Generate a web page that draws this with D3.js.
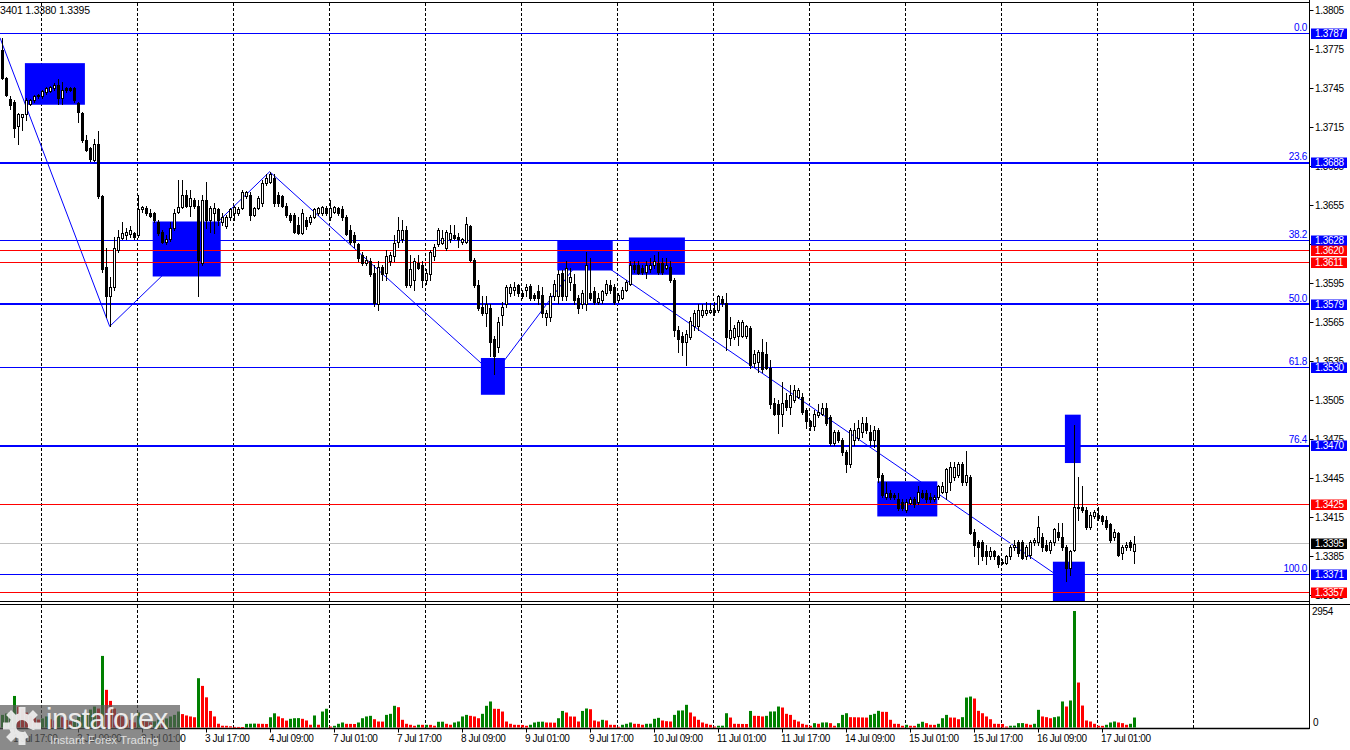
<!DOCTYPE html>
<html><head><meta charset="utf-8">
<script src="https://cdn.jsdelivr.net/npm/d3@7"></script>
<style>
html,body{margin:0;padding:0;background:#fff;}
svg{display:block;}
text{font-family:"Liberation Sans",Arial,sans-serif;}
</style></head><body>
<svg id="chart" width="1350" height="750"></svg>
<script>
// ---------- DATA (GBPUSD H1) ----------
const opens=[1.3775,1.3753,1.3737,1.3735,1.3716,1.3723,1.3725,1.3733,1.3736,1.3739,
1.3739,1.3742,1.3743,1.3745,1.3748,1.3738,1.3745,1.3745,1.3745,1.3734,
1.3726,1.3705,1.3699,1.3690,1.3702,1.3662,1.3608,1.3585,1.3592,1.3621,
1.3630,1.3632,1.3633,1.3634,1.3632,1.3652,1.3653,1.3649,1.3649,1.3642,
1.3635,1.3627,1.3629,1.3638,1.3650,1.3654,1.3663,1.3655,1.3659,1.3655,
1.3611,1.3659,1.3644,1.3649,1.3652,1.3642,1.3639,1.3646,1.3649,1.3649,
1.3653,1.3662,1.3663,1.3648,1.3653,1.3657,1.3672,1.3673,1.3676,1.3663,
1.3662,1.3655,1.3648,1.3648,1.3640,1.3634,1.3644,1.3642,1.3646,1.3649,
1.3649,1.3653,1.3646,1.3650,1.3653,1.3652,1.3646,1.3636,1.3632,1.3625,
1.3617,1.3611,1.3612,1.3603,1.3579,1.3608,1.3603,1.3612,1.3616,1.3627,
1.3629,1.3636,1.3594,1.3598,1.3611,1.3609,1.3598,1.3602,1.3616,1.3625,
1.3626,1.3622,1.3629,1.3632,1.3631,1.3627,1.3627,1.3639,1.3613,1.3594,
1.3577,1.3572,1.3576,1.3552,1.3546,1.3571,1.3579,1.3588,1.3590,1.3594,
1.3588,1.3590,1.3593,1.3586,1.3589,1.3586,1.3569,1.3569,1.3585,1.3585,
1.3603,1.3585,1.3596,1.3595,1.3584,1.3579,1.3579,1.3588,1.3589,1.3581,
1.3582,1.3588,1.3594,1.3592,1.3582,1.3584,1.3590,1.3595,1.3609,1.3609,
1.3607,1.3604,1.3606,1.3609,1.3611,1.3611,1.3607,1.3608,1.3598,1.3559,
1.3555,1.3550,1.3554,1.3562,1.3562,1.3571,1.3572,1.3573,1.3575,1.3575,
1.3583,1.3580,1.3553,1.3554,1.3555,1.3555,1.3555,1.3561,1.3534,1.3535,
1.3542,1.3541,1.3530,1.3503,1.3502,1.3495,1.3505,1.3500,1.3505,1.3508,
1.3508,1.3498,1.3489,1.3485,1.3494,1.3495,1.3499,1.3492,1.3472,1.3481,
1.3475,1.3465,1.3456,1.3475,1.3476,1.3481,1.3488,1.3481,1.3475,1.3482,
1.3448,1.3431,1.3434,1.3432,1.3429,1.3427,1.3421,1.3426,1.3429,1.3427,
1.3434,1.3434,1.3431,1.3429,1.3431,1.3435,1.3435,1.3442,1.3446,1.3448,
1.3456,1.3442,1.3446,1.3404,1.3396,1.3396,1.3389,1.3385,1.3389,1.3385,
1.3381,1.3380,1.3385,1.3392,1.3396,1.3396,1.3385,1.3386,1.3396,1.3396,
1.3400,1.3394,1.3390,1.3396,1.3404,1.3400,1.3392,1.3376,1.3390,1.3422,
1.3423,1.3421,1.3408,1.3416,1.3417,1.3416,1.3413,1.3410,1.3400,1.3403,
1.3388,1.3392,1.3396,1.3389];
const highs=[1.3784,1.3754,1.3739,1.3736,1.3726,1.3725,1.3738,1.3737,1.3740,1.3741,
1.3744,1.3746,1.3747,1.3749,1.3752,1.3750,1.3746,1.3746,1.3746,1.3735,
1.3727,1.3709,1.3700,1.3706,1.3712,1.3663,1.3622,1.3600,1.3631,1.3636,
1.3642,1.3638,1.3639,1.3635,1.3663,1.3655,1.3655,1.3652,1.3650,1.3644,
1.3636,1.3632,1.3642,1.3652,1.3675,1.3675,1.3667,1.3667,1.3661,1.3659,
1.3663,1.3673,1.3655,1.3657,1.3653,1.3649,1.3648,1.3653,1.3655,1.3654,
1.3667,1.3666,1.3665,1.3654,1.3662,1.3675,1.3679,1.3681,1.3679,1.3665,
1.3663,1.3657,1.3649,1.3649,1.3646,1.3652,1.3646,1.3648,1.3653,1.3654,
1.3655,1.3655,1.3659,1.3655,1.3654,1.3655,1.3648,1.3640,1.3635,1.3626,
1.3619,1.3616,1.3615,1.3609,1.3612,1.3609,1.3621,1.3619,1.3632,1.3646,
1.3644,1.3639,1.3617,1.3615,1.3617,1.3612,1.3606,1.3621,1.3625,1.3638,
1.3636,1.3636,1.3640,1.3640,1.3634,1.3630,1.3646,1.3640,1.3615,1.3598,
1.3585,1.3585,1.3579,1.3555,1.3569,1.3581,1.3594,1.3595,1.3596,1.3595,
1.3590,1.3595,1.3595,1.3588,1.3594,1.3592,1.3575,1.3588,1.3598,1.3605,
1.3605,1.3612,1.3607,1.3602,1.3586,1.3590,1.3619,1.3615,1.3592,1.3588,
1.3590,1.3598,1.3598,1.3595,1.3588,1.3592,1.3598,1.3612,1.3612,1.3612,
1.3609,1.3612,1.3615,1.3617,1.3619,1.3615,1.3615,1.3612,1.3599,1.3562,
1.3558,1.3559,1.3569,1.3575,1.3579,1.3579,1.3581,1.3580,1.3581,1.3586,
1.3585,1.3588,1.3569,1.3563,1.3567,1.3567,1.3563,1.3562,1.3544,1.3544,
1.3552,1.3550,1.3536,1.3507,1.3505,1.3519,1.3511,1.3517,1.3517,1.3515,
1.3511,1.3499,1.3490,1.3498,1.3502,1.3503,1.3503,1.3494,1.3482,1.3482,
1.3476,1.3467,1.3484,1.3488,1.3490,1.3492,1.3492,1.3486,1.3485,1.3484,
1.3449,1.3442,1.3436,1.3434,1.3434,1.3429,1.3429,1.3431,1.3431,1.3439,
1.3436,1.3436,1.3434,1.3432,1.3440,1.3442,1.3453,1.3458,1.3458,1.3458,
1.3458,1.3466,1.3448,1.3406,1.3398,1.3398,1.3394,1.3392,1.3390,1.3386,
1.3383,1.3386,1.3394,1.3398,1.3398,1.3398,1.3394,1.3398,1.3399,1.3416,
1.3403,1.3398,1.3398,1.3407,1.3411,1.3411,1.3394,1.3390,1.3486,1.3446,
1.3439,1.3423,1.3419,1.3421,1.3423,1.3417,1.3416,1.3411,1.3406,1.3404,
1.3394,1.3396,1.3398,1.3401];
const lows=[1.3752,1.3739,1.3729,1.3708,1.3702,1.3713,1.3721,1.3732,1.3735,1.3738,
1.3738,1.3741,1.3742,1.3744,1.3733,1.3733,1.3742,1.3743,1.3735,1.3719,
1.3704,1.3697,1.3689,1.3689,1.3661,1.3604,1.3569,1.3562,1.3590,1.3619,
1.3629,1.3629,1.3631,1.3629,1.3631,1.3650,1.3648,1.3646,1.3642,1.3632,
1.3626,1.3625,1.3628,1.3636,1.3649,1.3653,1.3654,1.3647,1.3653,1.3585,
1.3609,1.3638,1.3635,1.3634,1.3640,1.3640,1.3638,1.3644,1.3644,1.3648,
1.3652,1.3661,1.3644,1.3647,1.3652,1.3655,1.3671,1.3672,1.3655,1.3655,
1.3654,1.3646,1.3642,1.3634,1.3633,1.3633,1.3637,1.3641,1.3645,1.3648,
1.3648,1.3648,1.3644,1.3649,1.3648,1.3644,1.3632,1.3625,1.3623,1.3612,
1.3609,1.3609,1.3601,1.3578,1.3575,1.3598,1.3598,1.3609,1.3612,1.3623,
1.3627,1.3592,1.3592,1.3590,1.3606,1.3592,1.3595,1.3598,1.3613,1.3624,
1.3625,1.3621,1.3627,1.3629,1.3623,1.3625,1.3626,1.3612,1.3592,1.3575,
1.3571,1.3562,1.3539,1.3525,1.3542,1.3563,1.3577,1.3585,1.3586,1.3585,
1.3584,1.3585,1.3582,1.3582,1.3579,1.3569,1.3563,1.3566,1.3582,1.3580,
1.3582,1.3582,1.3590,1.3579,1.3572,1.3576,1.3575,1.3582,1.3579,1.3579,
1.3580,1.3586,1.3588,1.3579,1.3581,1.3583,1.3589,1.3594,1.3604,1.3602,
1.3602,1.3599,1.3604,1.3607,1.3602,1.3602,1.3606,1.3596,1.3555,1.3542,
1.3540,1.3532,1.3552,1.3559,1.3559,1.3569,1.3571,1.3572,1.3571,1.3573,
1.3578,1.3544,1.3548,1.3552,1.3548,1.3554,1.3553,1.3530,1.3531,1.3527,
1.3527,1.3529,1.3499,1.3494,1.3480,1.3485,1.3498,1.3495,1.3504,1.3507,
1.3495,1.3484,1.3482,1.3482,1.3492,1.3494,1.3486,1.3471,1.3471,1.3473,
1.3463,1.3450,1.3454,1.3471,1.3475,1.3477,1.3480,1.3471,1.3469,1.3442,
1.3431,1.3429,1.3429,1.3429,1.3421,1.3421,1.3419,1.3425,1.3423,1.3425,
1.3430,1.3427,1.3427,1.3428,1.3429,1.3434,1.3429,1.3436,1.3444,1.3446,
1.3440,1.3440,1.3402,1.3385,1.3379,1.3382,1.3379,1.3383,1.3383,1.3377,
1.3379,1.3379,1.3383,1.3390,1.3385,1.3383,1.3383,1.3384,1.3394,1.3394,
1.3389,1.3389,1.3388,1.3394,1.3398,1.3390,1.3366,1.3371,1.3389,1.3413,
1.3419,1.3406,1.3406,1.3415,1.3413,1.3410,1.3406,1.3396,1.3398,1.3385,
1.3383,1.3390,1.3390,1.3380];
const closes=[1.3753,1.3740,1.3732,1.3715,1.3725,1.3725,1.3736,1.3736,1.3739,1.3740,
1.3743,1.3745,1.3746,1.3748,1.3738,1.3744,1.3744,1.3744,1.3736,1.3727,
1.3705,1.3698,1.3691,1.3702,1.3662,1.3606,1.3585,1.3592,1.3622,1.3631,
1.3634,1.3635,1.3636,1.3631,1.3652,1.3654,1.3649,1.3647,1.3644,1.3634,
1.3627,1.3629,1.3638,1.3649,1.3654,1.3663,1.3655,1.3661,1.3655,1.3613,
1.3659,1.3644,1.3653,1.3653,1.3644,1.3646,1.3646,1.3652,1.3654,1.3652,
1.3665,1.3665,1.3648,1.3653,1.3661,1.3672,1.3676,1.3679,1.3657,1.3657,
1.3655,1.3648,1.3644,1.3635,1.3634,1.3649,1.3639,1.3646,1.3652,1.3653,
1.3654,1.3649,1.3653,1.3654,1.3649,1.3646,1.3633,1.3627,1.3627,1.3615,
1.3611,1.3613,1.3602,1.3580,1.3608,1.3602,1.3616,1.3617,1.3626,1.3636,
1.3636,1.3594,1.3606,1.3612,1.3607,1.3598,1.3603,1.3619,1.3623,1.3636,
1.3630,1.3635,1.3634,1.3630,1.3629,1.3629,1.3641,1.3613,1.3594,1.3576,
1.3572,1.3579,1.3550,1.3539,1.3565,1.3577,1.3592,1.3592,1.3592,1.3588,
1.3585,1.3592,1.3584,1.3584,1.3584,1.3572,1.3572,1.3585,1.3595,1.3602,
1.3585,1.3607,1.3600,1.3582,1.3576,1.3588,1.3609,1.3584,1.3581,1.3584,
1.3589,1.3595,1.3590,1.3581,1.3586,1.3590,1.3596,1.3609,1.3606,1.3603,
1.3604,1.3609,1.3609,1.3612,1.3604,1.3604,1.3609,1.3598,1.3559,1.3552,
1.3550,1.3556,1.3566,1.3572,1.3575,1.3575,1.3575,1.3575,1.3573,1.3585,
1.3580,1.3554,1.3559,1.3561,1.3565,1.3565,1.3562,1.3532,1.3541,1.3542,
1.3529,1.3530,1.3502,1.3495,1.3495,1.3503,1.3500,1.3509,1.3513,1.3513,
1.3496,1.3489,1.3485,1.3495,1.3496,1.3499,1.3488,1.3472,1.3481,1.3475,
1.3465,1.3456,1.3482,1.3482,1.3484,1.3488,1.3482,1.3475,1.3482,1.3446,
1.3432,1.3434,1.3431,1.3431,1.3422,1.3422,1.3427,1.3429,1.3425,1.3435,
1.3431,1.3429,1.3429,1.3431,1.3439,1.3439,1.3452,1.3454,1.3454,1.3456,
1.3442,1.3448,1.3403,1.3394,1.3392,1.3385,1.3385,1.3389,1.3385,1.3379,
1.3380,1.3385,1.3392,1.3394,1.3388,1.3384,1.3392,1.3396,1.3398,1.3408,
1.3392,1.3390,1.3396,1.3406,1.3400,1.3392,1.3376,1.3389,1.3423,1.3423,
1.3421,1.3408,1.3417,1.3419,1.3415,1.3412,1.3408,1.3398,1.3404,1.3386,
1.3392,1.3394,1.3392,1.3395];
const volumes=[320,355,405,800,530,480,380,300,250,200,
230,280,210,180,300,260,190,160,210,280,
330,355,455,530,480,1815,955,675,480,355,
280,230,195,130,380,200,150,130,155,200,
180,230,280,320,405,340,305,280,260,1250,
1055,765,420,280,95,45,43,30,15,14,
12,92,96,99,95,93,90,260,360,280,
235,175,220,235,238,220,178,70,305,70,
405,475,25,43,94,127,93,91,89,127,
235,280,296,210,152,150,320,347,550,515,
195,94,69,44,70,68,69,67,45,145,
147,94,70,127,152,280,320,296,280,235,
347,550,660,475,472,405,152,94,69,67,
65,44,69,127,145,148,127,125,122,235,
420,380,280,277,152,420,482,463,178,152,
195,178,69,67,18,69,94,127,94,92,
69,94,96,220,245,178,160,152,320,430,
433,575,380,280,195,127,94,69,25,44,
46,362,253,94,92,90,89,420,296,294,
280,296,405,408,532,507,347,320,195,152,
94,69,44,110,94,127,129,110,44,110,
320,362,262,260,257,255,252,320,347,423,
398,396,195,94,92,44,69,44,42,94,
145,110,69,67,94,235,320,253,251,210,
262,760,785,735,423,362,280,210,94,92,
90,25,44,46,110,112,94,69,94,448,
280,262,235,262,280,660,532,685,2954,1140,
557,178,152,94,44,42,69,127,152,127,
110,69,94,253];

const priceTicks=[1.3805,1.3775,1.3745,1.3715,1.3685,1.3655,1.3625,1.3595,1.3565,1.3535,1.3505,1.3475,1.3445,1.3415,1.3385,1.3355];
const fibLabels=["0.0","23.6","38.2","50.0","61.8","76.4","100.0"];
const fibPrices=[1.3787,1.3688,1.3628,1.3579,1.3530,1.3470,1.3371];
const fibWeights=[1,2,1,2,1,2,1];
const redLevels=[1.3620,1.3611,1.3425,1.3357];
const bidPrice=1.3395;
const zigBars=[0,27,67,123,146,266];
const zigSide=["H","L","H","L","H","L"];
const boxFrom=[5.8,37.75,119.8,138.9,156.8,218.9,265.8,262.8];
const boxTo=[20.8,54.75,125.8,152.75,170.8,233.9,269.75,270.8];
const boxHigh=[1.37645,1.36427,1.35377,1.36281,1.36304,1.34428,1.34941,1.33810];
const boxLow=[1.37325,1.36004,1.35094,1.36050,1.36017,1.34158,1.34569,1.33500];
const dayStartBars=[10,34,58,82,106,130,154,178,202,226,250,274,298];
const timeLabels=["1 Jul 17:00","2 Jul 09:00","3 Jul 01:00","3 Jul 17:00","4 Jul 09:00","7 Jul 01:00","7 Jul 17:00","8 Jul 09:00","9 Jul 01:00","9 Jul 17:00","10 Jul 09:00","11 Jul 01:00","11 Jul 17:00","14 Jul 09:00","15 Jul 01:00","15 Jul 17:00","16 Jul 09:00","17 Jul 01:00"];
const timeLabelBars=[3,19,35,51,67,83,99,115,131,147,163,179,195,211,227,243,259,275];
const volumeMax=2954;
const headerText="3401 1.3380 1.3395";

// ---------- LAYOUT ----------
const svg=d3.select("#chart");
const axisX=1309.5;
const x=d3.scaleLinear().domain([0,327]).range([1.7,1309.7]);
const y=d3.scaleLinear().domain([1.3805,1.3355]).range([10.5,595.5]);
const vy=d3.scaleLinear().domain([0,volumeMax]).range([727.5,611]);
const BLUE="#0000ff", RED="#ff0000";

const defs=svg.append("defs");
defs.append("clipPath").attr("id","cMain").append("rect").attr("x",0).attr("y",3).attr("width",1309).attr("height",598);
defs.append("clipPath").attr("id","cVol").append("rect").attr("x",0).attr("y",605).attr("width",1309).attr("height",123);

// panel borders
svg.append("line").attr("x1",0).attr("x2",axisX).attr("y1",2.5).attr("y2",2.5).attr("stroke","#000");
svg.append("line").attr("x1",0).attr("x2",axisX).attr("y1",601.5).attr("y2",601.5).attr("stroke","#000");
svg.append("line").attr("x1",0).attr("x2",1350).attr("y1",604.5).attr("y2",604.5).attr("stroke","#000");
svg.append("line").attr("x1",0).attr("x2",axisX).attr("y1",728.5).attr("y2",728.5).attr("stroke","#000").attr("stroke-width",1.5);
svg.append("line").attr("x1",axisX).attr("x2",axisX).attr("y1",0).attr("y2",729).attr("stroke","#000");

// grid
const gGrid=svg.append("g");
dayStartBars.forEach(b=>{
  const gx=Math.floor(x(b))+0.5;
  [[3,601],[605,728]].forEach(([a,bb])=>{
    gGrid.append("line").attr("x1",gx).attr("x2",gx).attr("y1",a).attr("y2",bb)
      .attr("stroke","#000").attr("stroke-dasharray","3,2");
  });
});

const gMain=svg.append("g").attr("clip-path","url(#cMain)");
// zigzag
const zigPts=zigBars.map((b,i)=>[x(b), y(zigSide[i]==="H"?highs[b]:lows[b])]);
zigPts[0][0]=0;
gMain.append("path").attr("d",d3.line()(zigPts)).attr("fill","none").attr("stroke",BLUE).attr("stroke-width",1);
// boxes
boxFrom.forEach((b,i)=>{
  gMain.append("rect").attr("x",x(boxFrom[i])).attr("width",x(boxTo[i])-x(boxFrom[i]))
    .attr("y",y(boxHigh[i])).attr("height",y(boxLow[i])-y(boxHigh[i])).attr("fill",BLUE);
});
// horizontal levels
function hline(p,color,w){
  const yy=y(p);
  const py = w===1 ? Math.floor(yy)+0.5 : Math.round(yy);
  gMain.append("line").attr("x1",0).attr("x2",1309).attr("y1",py).attr("y2",py).attr("stroke",color).attr("stroke-width",w);
}
hline(bidPrice,"#c0c0c0",1);
fibPrices.forEach((p,i)=>hline(p,BLUE,fibWeights[i]));
redLevels.forEach(p=>hline(p,RED,1));
// fib labels
fibPrices.forEach((p,i)=>{
  gMain.append("text").attr("x",1307).attr("y",Math.floor(y(p))-2.5).attr("text-anchor","end")
    .attr("font-size",10).attr("letter-spacing",-0.3).attr("fill",BLUE).text(fibLabels[i]);
});

// candles
const gC=gMain.append("g");
opens.forEach((o,i)=>{
  const h=highs[i], l=lows[i], c=closes[i];
  const cx=Math.round(x(i));
  const yh=Math.round(y(Math.max(h,o,c))), yl=Math.round(y(Math.min(l,o,c)));
  gC.append("line").attr("x1",cx+0.5).attr("x2",cx+0.5).attr("y1",yh).attr("y2",yl+1).attr("stroke","#000");
  const top=Math.round(y(Math.max(o,c))), bot=Math.round(y(Math.min(o,c)));
  if(c>o){
    gC.append("rect").attr("x",cx-0.5).attr("y",top+0.5).attr("width",2).attr("height",Math.max(bot-top,1))
      .attr("fill","#fff").attr("stroke","#000").attr("stroke-width",1);
  } else {
    gC.append("rect").attr("x",cx-1).attr("y",top).attr("width",3).attr("height",Math.max(bot-top+1,1)).attr("fill","#000");
  }
});

// volume
const gV=svg.append("g").attr("clip-path","url(#cVol)");
volumes.forEach((v,i)=>{
  const up = i===0 ? true : v>volumes[i-1];
  const cx=Math.round(x(i));
  const t=vy(v);
  gV.append("rect").attr("x",cx-1).attr("y",t).attr("width",3).attr("height",Math.max(727.5-t,0.8))
    .attr("fill",up?"#008000":RED);
});

// header
svg.append("text").attr("x",0).attr("y",14).attr("font-size",10.5).attr("fill","#000").attr("letter-spacing",-0.2).text(headerText);

// price axis
const gA=svg.append("g");
priceTicks.forEach(p=>{
  const yy=Math.floor(y(p))+0.5;
  gA.append("line").attr("x1",axisX).attr("x2",axisX+4).attr("y1",yy).attr("y2",yy).attr("stroke","#000");
  gA.append("text").attr("x",1315).attr("y",yy+3.5).attr("font-size",10).attr("letter-spacing",-0.3).attr("fill","#000").text(p.toFixed(4));
});
function tag(p,bg){
  const yy=Math.floor(y(p))+0.5;
  gA.append("rect").attr("x",1311).attr("y",yy-5).attr("width",36).attr("height",10.5).attr("fill",bg);
  gA.append("text").attr("x",1315).attr("y",yy+3.5).attr("font-size",10).attr("letter-spacing",-0.3).attr("fill","#fff").text(p.toFixed(4));
}
fibPrices.forEach(p=>tag(p,BLUE));
redLevels.forEach(p=>tag(p,RED));
tag(bidPrice,"#000");
// volume axis
gA.append("text").attr("x",1312).attr("y",614.5).attr("font-size",10).attr("letter-spacing",-0.3).text(volumeMax);
gA.append("text").attr("x",1313).attr("y",726).attr("font-size",10).text("0");

// time axis
timeLabels.forEach((t,i)=>{
  const tx=Math.round(x(timeLabelBars[i]))+0.5;
  svg.append("line").attr("x1",tx).attr("x2",tx).attr("y1",729).attr("y2",732.5).attr("stroke","#000");
  svg.append("text").attr("x",tx-1.5).attr("y",742).attr("font-size",10)
    .attr("letter-spacing",-0.4).attr("fill","#000").text(t);
});

// watermark logo
const lg=svg.append("g");
lg.append("rect").attr("x",0).attr("y",705).attr("width",180).attr("height",45).attr("fill","#585858").attr("opacity",0.7);
const gear=lg.append("g").attr("transform","translate(22,726)").attr("opacity",0.9);
for(let a=0;a<8;a++){
  if(a===3) continue;
  gear.append("rect").attr("x",-3.5).attr("y",-19).attr("width",7).attr("height",9).attr("fill","#f2f2f2")
    .attr("transform",`rotate(${a*45})`);
}
gear.append("path").attr("d",d3.arc()({innerRadius:6,outerRadius:13,startAngle:2.6,endAngle:2*Math.PI+1.9}))
  .attr("fill","#f2f2f2");
lg.append("text").attr("x",46).attr("y",729).attr("font-size",29).attr("fill","#f4f4f4").attr("opacity",0.92).attr("letter-spacing",-0.4).text("instaforex");
lg.append("text").attr("x",50).attr("y",743.5).attr("font-size",11.5).attr("fill","#e8e8e8").attr("opacity",0.9).text("Instant Forex Trading");
</script>
</body></html>
